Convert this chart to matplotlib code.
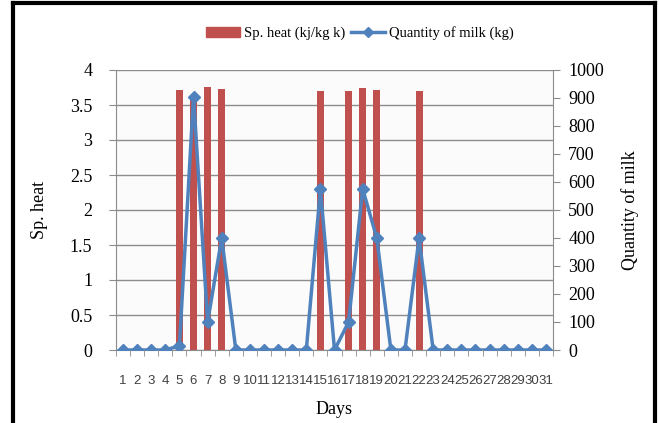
import numpy as np
import matplotlib.pyplot as plt
from matplotlib.lines import Line2D

days = list(range(1, 32))
sp_heat = [0, 0, 0, 0, 3.72, 3.6, 3.76, 3.73, 0, 0, 0, 0, 0, 0, 3.70, 0,
           3.70, 3.74, 3.72, 0, 0, 3.70, 0, 0, 0, 0, 0, 0, 0, 0, 0]
milk = [0, 0, 0, 0, 15, 905, 100, 400, 0, 0, 0, 0, 0, 0, 575, 0,
        100, 575, 400, 0, 0, 400, 0, 0, 0, 0, 0, 0, 0, 0, 0]
left_ticks = [0, 0.5, 1, 1.5, 2, 2.5, 3, 3.5, 4]
right_ticks = list(range(0, 1001, 100))

bar_color = '#C0504D'
line_color = '#4F81BD'
grid_color = '#8C8C8C'

plt.rcParams['font.family'] = ['Liberation Serif', 'DejaVu Serif']

fig = plt.figure(figsize=(6.59, 4.23), dpi=100)
ax = fig.add_axes([116 / 659, 1 - 350 / 423, 437 / 659, 280 / 423])
ax.set_facecolor('#FBFBFB')

x = np.array(days)
ax.bar(x, sp_heat, width=0.5, color=bar_color, zorder=2)
ax.set_xlim(0.5, 31.5)
ax.set_ylim(0, 4)
ax.set_yticks(left_ticks)
ax.set_yticklabels([f'{t:g}' for t in left_ticks], fontsize=13)
ax.yaxis.grid(True, color=grid_color, linewidth=1)
ax.set_axisbelow(True)

ax.set_xticks(x)
ax.set_xticklabels([str(d) for d in days], fontsize=9.5, color='#404040',
                   family=['Liberation Sans', 'DejaVu Sans'])
ax.set_xticks(np.arange(0.5, 32, 1), minor=True)
ax.tick_params(axis='x', which='major', length=0, pad=18)
ax.tick_params(axis='x', which='minor', length=4, color=grid_color, direction='out')
ax.tick_params(axis='y', length=5, color=grid_color, pad=12)

for s in ['top', 'right']:
    ax.spines[s].set_visible(False)
for s in ['left', 'bottom']:
    ax.spines[s].set_color(grid_color)

ax.set_xlabel('Days', fontsize=13, labelpad=10)
ax.set_ylabel('Sp. heat', fontsize=13, labelpad=16)

ax2 = ax.twinx()
ax2.plot(x, milk, color=line_color, linewidth=2.5, marker='D', markersize=6, zorder=3)
ax2.set_ylim(0, 1000)
ax2.set_yticks(right_ticks)
ax2.set_yticklabels([str(t) for t in right_ticks], fontsize=13)
ax2.tick_params(axis='y', length=5, color=grid_color, pad=6)
for s in ['top', 'left', 'bottom']:
    ax2.spines[s].set_visible(False)
ax2.spines['right'].set_color(grid_color)
ax2.set_ylabel('Quantity of milk', fontsize=13, labelpad=12)

handles = [plt.Rectangle((0, 0), 1, 1, color=bar_color),
           Line2D([0], [0], color=line_color, linewidth=2.5, marker='D', markersize=5)]
fig.legend(handles, ['Sp. heat (kj/kg k)', 'Quantity of milk (kg)'],
           loc='center', bbox_to_anchor=(360 / 659, 1 - 33 / 423), ncol=2,
           frameon=False, fontsize=10.5, handlelength=2.3, handletextpad=0.3,
           columnspacing=0.4)

# outer black frame (open at the bottom)
frame = dict(color='black', linewidth=3, transform=fig.transFigure, clip_on=False)
fig.add_artist(Line2D([13 / 659, 13 / 659], [0, 1 - 3 / 423], **frame))
fig.add_artist(Line2D([13 / 659, 655 / 659], [1 - 3 / 423, 1 - 3 / 423], **frame))
fig.add_artist(Line2D([655 / 659, 655 / 659], [0, 1 - 3 / 423], **frame))

fig.savefig('out.png', dpi=100)
